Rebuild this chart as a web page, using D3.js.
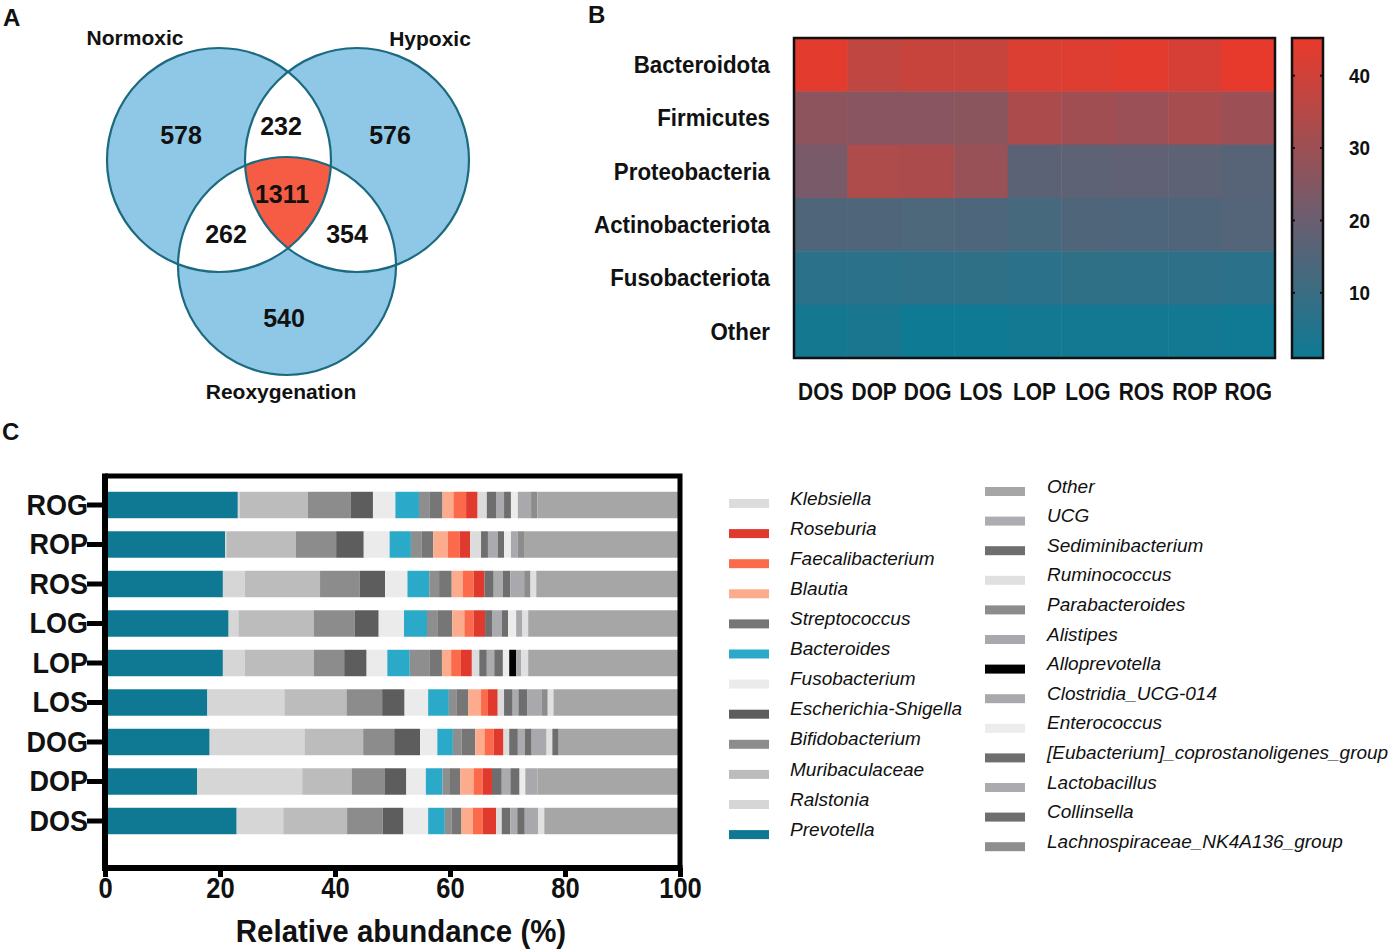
<!DOCTYPE html>
<html>
<head>
<meta charset="utf-8">
<script src="https://cdn.jsdelivr.net/npm/d3@7"></script>
<style>
  body { margin: 0; background: #fff; }
  text { font-family: "Liberation Sans", Arial, sans-serif; fill: #111; }
</style>
</head>
<body>
<script>
// ---------------- data ----------------

// A: Venn counts
const vennSets = ['Normoxic', 'Hypoxic', 'Reoxygenation'];
const vennRegions = ['N', 'H', 'R', 'NH', 'NR', 'HR', 'NHR'];
const vennCounts = [578, 576, 540, 232, 262, 354, 1311];

// B: heatmap (phylum relative abundance, %)
const samples = ['DOS', 'DOP', 'DOG', 'LOS', 'LOP', 'LOG', 'ROS', 'ROP', 'ROG'];
const phyla = ['Bacteroidota', 'Firmicutes', 'Proteobacteria', 'Actinobacteriota', 'Fusobacteriota', 'Other'];
const bacteroidota     = [44.0, 37.0, 38.5, 38.5, 42.5, 43.0, 44.0, 41.5, 45.0];
const firmicutes       = [27.0, 26.0, 26.0, 26.5, 33.0, 31.0, 29.5, 32.0, 30.0];
const proteobacteria   = [23.0, 33.5, 33.0, 29.0, 17.0, 17.5, 18.0, 17.5, 16.0];
const actinobacteriota = [14.5, 14.5, 14.0, 14.3, 12.5, 14.5, 14.3, 14.5, 15.5];
const fusobacteriota   = [7.0, 7.0, 7.5, 8.0, 7.0, 8.0, 7.5, 7.5, 7.0];
const otherPhyla       = [2.5, 3.5, 1.0, 1.2, 2.0, 2.0, 2.0, 2.0, 1.5];
const colorTicks = [10, 20, 30, 40];

// C: genus relative abundance (%), stack order left -> right
const genera = ['Prevotella', 'Ralstonia', 'Muribaculaceae', 'Bifidobacterium', 'Escherichia-Shigella',
  'Fusobacterium', 'Bacteroides', 'Lachnospiraceae_NK4A136_group', 'Streptococcus', 'Blautia',
  'Faecalibacterium', 'Roseburia', 'Klebsiella', 'Collinsella', 'Lactobacillus',
  '[Eubacterium]_coprostanoligenes_group', 'Enterococcus', 'Clostridia_UCG-014', 'Alloprevotella',
  'Alistipes', 'Parabacteroides', 'Ruminococcus', 'Sediminibacterium', 'UCG', 'Other'];
const DOS = [22.9, 8.1, 11.1, 6.2, 3.6, 4.3, 2.9, 1.2, 1.7, 2.0, 1.7, 2.3, 1.0, 1.5, 1.2, 1.3, 0, 2.3, 0, 0, 0, 1.1, 0, 0, 23.6];
const DOP = [16.0, 18.3, 8.6, 5.7, 3.8, 3.4, 2.9, 1.3, 1.8, 2.3, 1.6, 1.6, 0, 1.7, 1.5, 1.6, 1.0, 2.1, 0, 0, 0, 0, 0, 0, 24.8];
const DOG = [18.2, 16.5, 10.2, 5.4, 4.5, 3.0, 2.7, 1.5, 2.4, 1.6, 1.6, 1.7, 1.0, 1.5, 1.2, 1.2, 0, 2.6, 0, 0, 0, 1.0, 1.1, 0, 21.1];
const LOS = [17.8, 13.4, 10.8, 6.2, 3.9, 4.1, 3.6, 1.3, 2.1, 2.2, 1.2, 1.7, 1.1, 1.5, 1.0, 1.5, 0, 2.5, 0, 0, 1.1, 1.0, 0, 0, 22.0];
const LOP = [20.5, 3.8, 12.0, 5.3, 3.9, 3.6, 3.9, 3.4, 2.2, 1.6, 1.7, 1.9, 1.3, 1.3, 1.3, 1.5, 1.1, 0, 1.2, 0.9, 0, 1.2, 0, 0, 26.4];
const LOG = [21.5, 1.7, 13.1, 7.1, 4.2, 4.4, 4.0, 1.9, 2.5, 2.1, 1.6, 2.0, 0, 1.2, 1.7, 1.1, 1.4, 1.1, 0, 0, 0, 1.0, 0, 0, 26.4];
const ROS = [20.5, 3.8, 13.1, 6.9, 4.4, 3.9, 3.8, 1.7, 2.2, 1.9, 1.9, 1.9, 0, 1.6, 1.6, 1.3, 0, 2.4, 0, 0, 1.1, 1.0, 0, 0, 25.0];
const ROP = [20.9, 0.2, 12.1, 7.0, 4.8, 4.5, 3.7, 1.9, 2.0, 2.5, 2.1, 1.8, 1.9, 1.2, 1.7, 1.1, 1.2, 1.2, 0, 0, 1.2, 0, 0, 0, 27.0];
const ROG = [23.1, 0.3, 11.9, 7.4, 3.9, 3.9, 4.1, 1.8, 2.3, 1.9, 2.2, 2.0, 1.6, 1.6, 1.4, 1.2, 1.2, 2.3, 0, 0, 1.1, 0, 0, 0, 24.8];
const xTicks = [0, 20, 40, 60, 80, 100];

// legend order as printed
const legendLeft = ['Klebsiella', 'Roseburia', 'Faecalibacterium', 'Blautia', 'Streptococcus', 'Bacteroides',
  'Fusobacterium', 'Escherichia-Shigella', 'Bifidobacterium', 'Muribaculaceae', 'Ralstonia', 'Prevotella'];
const legendRight = ['Other', 'UCG', 'Sediminibacterium', 'Ruminococcus', 'Parabacteroides', 'Alistipes',
  'Alloprevotella', 'Clostridia_UCG-014', 'Enterococcus', '[Eubacterium]_coprostanoligenes_group',
  'Lactobacillus', 'Collinsella', 'Lachnospiraceae_NK4A136_group'];

// ---------------- styles ----------------
const genusColor = {
  'Prevotella': '#0f7893', 'Ralstonia': '#d6d6d6', 'Muribaculaceae': '#bcbcbc', 'Bifidobacterium': '#8c8c8c',
  'Escherichia-Shigella': '#5d5d5d', 'Fusobacterium': '#ebebeb', 'Bacteroides': '#2aaac8',
  'Lachnospiraceae_NK4A136_group': '#8e8e8e', 'Streptococcus': '#767676', 'Blautia': '#fcab8c',
  'Faecalibacterium': '#fb6a4a', 'Roseburia': '#e0392d', 'Klebsiella': '#dcdcdc', 'Collinsella': '#6e6e6e',
  'Lactobacillus': '#ababaf', '[Eubacterium]_coprostanoligenes_group': '#6e6e6e', 'Enterococcus': '#ececec',
  'Clostridia_UCG-014': '#a9a9ad', 'Alloprevotella': '#000000', 'Alistipes': '#a9a9ad',
  'Parabacteroides': '#8c8c8c', 'Ruminococcus': '#e0e0e0', 'Sediminibacterium': '#6e6e6e',
  'UCG': '#adadb1', 'Other': '#a6a6a6'
};
const SQ = 0.93; // Prism text is a bit narrow

const svg = d3.select('body').append('svg')
  .attr('width', 1399).attr('height', 949);

// squeezed bold text helper
function label(g, x, y, str, size, anchor, squeeze) {
  return g.append('text')
    .attr('transform', `translate(${x},${y}) scale(${squeeze ?? 1},1)`)
    .attr('text-anchor', anchor ?? 'middle')
    .attr('dy', '0.35em')
    .style('font-weight', 'bold')
    .style('font-size', size + 'px')
    .text(str);
}

// panel letters
label(svg, 3, 18, 'A', 24, 'start');
label(svg, 588, 15, 'B', 24, 'start');
label(svg, 2, 432, 'C', 24, 'start');

// ---------------- A: Venn ----------------
const venn = svg.append('g');
const circles = [
  { id: 'cN', cx: 219, cy: 160, r: 112 },
  { id: 'cH', cx: 357, cy: 160, r: 112 },
  { id: 'cR', cx: 287, cy: 266, r: 109 }
];
const defs = svg.append('defs');
circles.forEach(c => {
  defs.append('clipPath').attr('id', c.id)
    .append('circle').attr('cx', c.cx).attr('cy', c.cy).attr('r', c.r);
});

venn.selectAll('circle.fill').data(circles).join('circle')
  .attr('class', 'fill')
  .attr('cx', d => d.cx).attr('cy', d => d.cy).attr('r', d => d.r)
  .attr('fill', '#8fc8e6');

// pairwise overlaps white
[[0, 1], [0, 2], [1, 2]].forEach(([a, b]) => {
  venn.append('g').attr('clip-path', `url(#${circles[a].id})`)
    .append('circle')
    .attr('cx', circles[b].cx).attr('cy', circles[b].cy).attr('r', circles[b].r)
    .attr('fill', '#ffffff');
});
// triple overlap red
venn.append('g').attr('clip-path', 'url(#cN)')
  .append('g').attr('clip-path', 'url(#cH)')
  .append('circle')
  .attr('cx', circles[2].cx).attr('cy', circles[2].cy).attr('r', circles[2].r)
  .attr('fill', '#f55c43');

venn.selectAll('circle.edge').data(circles).join('circle')
  .attr('class', 'edge')
  .attr('cx', d => d.cx).attr('cy', d => d.cy).attr('r', d => d.r)
  .attr('fill', 'none').attr('stroke', '#1c6a80').attr('stroke-width', 2.2);

const setLabelPos = [[135, 38], [430, 39], [281, 392]];
vennSets.forEach((s, i) => label(venn, setLabelPos[i][0], setLabelPos[i][1], s, 21));

const regionPos = { N: [181, 135], H: [390, 135], R: [284, 318], NH: [281, 126], NR: [226, 234], HR: [347, 234], NHR: [282, 194] };
vennRegions.forEach((r, i) => label(venn, regionPos[r][0], regionPos[r][1], vennCounts[i], 25));

// ---------------- B: heatmap ----------------
const hm = { left: 794, right: 1275, top: 38, bottom: 358 };
const phylumValues = [bacteroidota, firmicutes, proteobacteria, actinobacteriota, fusobacteriota, otherPhyla];
const cells = [];
phyla.forEach((p, i) => samples.forEach((s, j) => cells.push({ phylum: p, sample: s, value: phylumValues[i][j] })));

const hx = d3.scaleBand().domain(samples).range([hm.left, hm.right]);
const hy = d3.scaleBand().domain(phyla).range([hm.top, hm.bottom]);
// teal -> slate -> red
const color = d3.scaleLinear().domain([1, 20, 45.2]).range(['#0e7a94', '#6a5e70', '#e93a2b']);

const heat = svg.append('g');
heat.selectAll('rect.cell').data(cells).join('rect')
  .attr('class', 'cell')
  .attr('x', d => hx(d.sample)).attr('y', d => hy(d.phylum))
  .attr('width', hx.bandwidth() + 0.5).attr('height', hy.bandwidth() + 0.5)
  .attr('fill', d => color(d.value));
heat.append('rect')
  .attr('x', hm.left).attr('y', hm.top)
  .attr('width', hm.right - hm.left).attr('height', hm.bottom - hm.top)
  .attr('fill', 'none').attr('stroke', '#111').attr('stroke-width', 2.5);

phyla.forEach(p => label(heat, 770, hy(p) + hy.bandwidth() / 2, p, 24, 'end', SQ));
samples.forEach(s => label(heat, hx(s) + hx.bandwidth() / 2, 392, s, 24, 'middle', 0.87));

// colour bar
const cb = { left: 1292, right: 1323, top: 38, bottom: 358 };
const cy = d3.scaleLinear().domain([1, 45.2]).range([cb.bottom, cb.top]);
const grad = defs.append('linearGradient').attr('id', 'cbGrad')
  .attr('x1', 0).attr('y1', 1).attr('x2', 0).attr('y2', 0);
d3.range(0, 1.0001, 0.05).forEach(t => {
  grad.append('stop').attr('offset', t).attr('stop-color', color(1 + t * 44.2));
});
heat.append('rect')
  .attr('x', cb.left).attr('y', cb.top)
  .attr('width', cb.right - cb.left).attr('height', cb.bottom - cb.top)
  .attr('fill', 'url(#cbGrad)').attr('stroke', '#111').attr('stroke-width', 2.5);
colorTicks.forEach(t => {
  heat.append('line').attr('x1', cb.left).attr('x2', cb.left + 3)
    .attr('y1', cy(t)).attr('y2', cy(t)).attr('stroke', '#111').attr('stroke-width', 2);
  heat.append('line').attr('x1', cb.right - 3).attr('x2', cb.right)
    .attr('y1', cy(t)).attr('y2', cy(t)).attr('stroke', '#111').attr('stroke-width', 2);
  label(heat, 1349, cy(t), t, 21, 'start', 0.9);
});

// ---------------- C: stacked bars ----------------
const barRows = [DOS, DOP, DOG, LOS, LOP, LOG, ROS, ROP, ROG];
const table = samples.map((s, i) => {
  const row = { sample: s };
  genera.forEach((g, k) => row[g] = barRows[i][k]);
  return row;
});
const series = d3.stack().keys(genera)(table);

const frame = { left: 105, right: 680, top: 476, bottom: 868 };
const bx = d3.scaleLinear().domain([0, 100]).range([frame.left, frame.right]);
const by = d3.scaleBand().domain(samples.slice().reverse())
  .range([485.25, 840.75]).paddingInner(0.33).paddingOuter(0.165);

const bars = svg.append('g');
bars.selectAll('g.series').data(series).join('g')
  .attr('class', 'series')
  .attr('fill', d => genusColor[d.key])
  .selectAll('rect').data(d => d).join('rect')
  .attr('x', d => bx(d[0])).attr('width', d => Math.max(0, bx(d[1]) - bx(d[0])))
  .attr('y', d => by(d.data.sample)).attr('height', by.bandwidth());

// frame top / right
bars.append('path')
  .attr('d', `M${frame.left},${frame.top}H${frame.right}V${frame.bottom}`)
  .attr('fill', 'none').attr('stroke', '#000').attr('stroke-width', 5);

const xAxis = bars.append('g')
  .attr('transform', `translate(0,${frame.bottom})`)
  .call(d3.axisBottom(bx).tickValues(xTicks).tickSize(9).tickSizeOuter(0).tickPadding(0));
xAxis.select('.domain').attr('stroke', '#000').attr('stroke-width', 6)
  .attr('d', `M${frame.left - 3},0H${frame.right + 2.5}`);
xAxis.selectAll('.tick line').attr('stroke', '#000').attr('stroke-width', 5);
xAxis.selectAll('.tick text')
  .attr('transform', `scale(${0.85},1)`)
  .style('font-family', '"Liberation Sans", Arial, sans-serif')
  .style('font-weight', 'bold').style('font-size', '30px').attr('fill', '#111');

const yAxis = bars.append('g')
  .attr('transform', `translate(${frame.left},0)`)
  .call(d3.axisLeft(by).tickSize(18).tickSizeOuter(0).tickPadding(1));
yAxis.select('.domain').attr('stroke', '#000').attr('stroke-width', 6)
  .attr('d', `M0,${frame.top - 2.5}V${frame.bottom}`);
yAxis.selectAll('.tick line').attr('stroke', '#000').attr('stroke-width', 5);
yAxis.selectAll('.tick text')
  .attr('transform', `scale(${0.9},1)`)
  .style('font-family', '"Liberation Sans", Arial, sans-serif')
  .style('font-weight', 'bold').style('font-size', '30px').attr('fill', '#111');

label(bars, 401, 931, 'Relative abundance (%)', 32, 'middle', 0.92);

// legend
const legend = svg.append('g');
function legendColumn(names, swX, txtX, y0, step) {
  names.forEach((n, i) => {
    const y = y0 + i * step;
    legend.append('rect')
      .attr('x', swX).attr('y', y + 1).attr('width', 40).attr('height', 9)
      .attr('fill', genusColor[n]);
    legend.append('text')
      .attr('x', txtX).attr('y', y).attr('dy', '0.35em')
      .style('font-style', 'italic').style('font-size', '19px').attr('fill', '#333')
      .text(n);
  });
}
legendColumn(legendLeft, 729, 790, 498, 30.1);
legendColumn(legendRight, 985, 1047, 486, 29.6);
</script>
</body>
</html>
